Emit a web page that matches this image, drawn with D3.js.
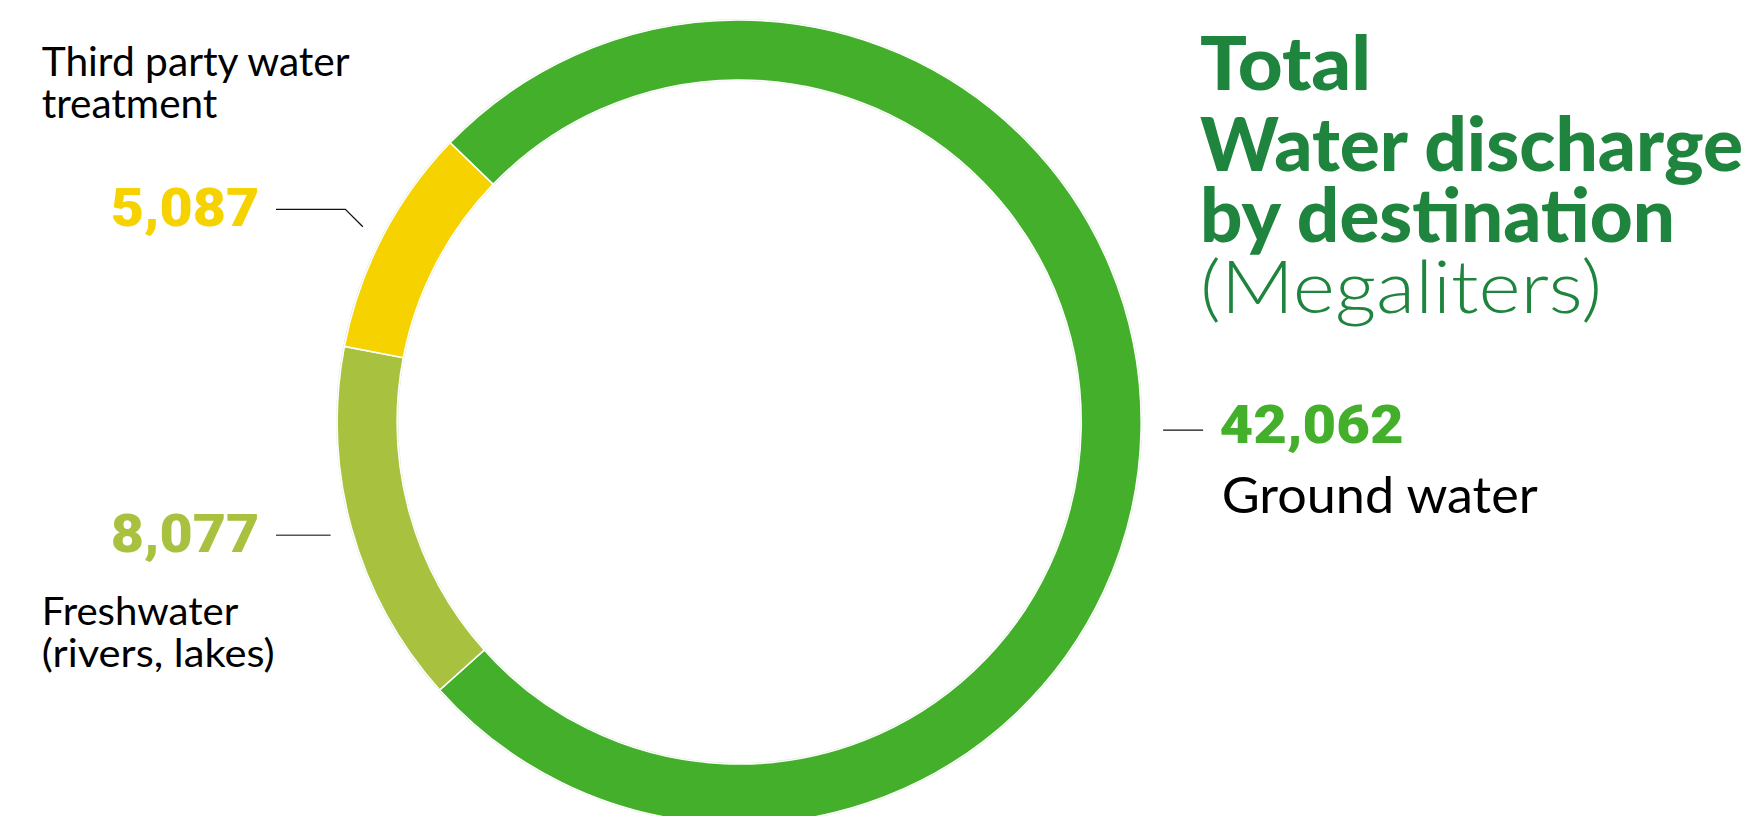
<!DOCTYPE html>
<html>
<head>
<meta charset="utf-8">
<script src="https://cdn.jsdelivr.net/npm/d3@7"></script>
<style>
  html, body { margin: 0; padding: 0; background: #fff; overflow: hidden; }
  svg { display: block; }
</style>
</head>
<body>
<svg id="chart" width="1753" height="816"></svg>
<script>
// ---- data ----
const categories = ["Ground water", "Freshwater (rivers, lakes)", "Third party water treatment"];
const values = [42062, 8077, 5087];
const colors = ["#43AF2B", "#A8C23F", "#F5D200"];
const labelLines = [["Ground water"], ["Freshwater", "(rivers, lakes)"], ["Third party water", "treatment"]];
const titleLines = ["Total", "Water discharge", "by destination"];
const subtitle = "(Megaliters)";

// ---- layout ----
const W = 1753, H = 816;
const cx = 739.2, cy = 422;
const rOuter = 402, rInner = 342;
const startDeg = -46;
const titleColor = "#1E843E";

const svg = d3.select("#chart");

const pie = d3.pie().sort(null).value(d => d)
  .startAngle(startDeg * Math.PI / 180)
  .endAngle(startDeg * Math.PI / 180 + 2 * Math.PI);
const arcs = pie(values);

const arc = d3.arc().innerRadius(rInner).outerRadius(rOuter);
const g = svg.append("g").attr("transform", `translate(${cx},${cy})`);

// faint outline halo
g.append("circle").attr("r", rOuter + 0.5).attr("fill", "none").attr("stroke", "#cfe8c6").attr("stroke-width", 1.2);
g.append("circle").attr("r", rInner - 0.5).attr("fill", "none").attr("stroke", "#cfe8c6").attr("stroke-width", 1.2);

g.selectAll("path.seg").data(arcs).join("path")
  .attr("class", "seg")
  .attr("d", arc)
  .attr("fill", (d, i) => colors[i])
  .attr("stroke", "#ffffff")
  .attr("stroke-width", 1.6)
  .attr("stroke-linejoin", "miter");

// ---- text helpers ----
function addText(parent, str, x, y, opts) {
  const t = parent.append("text")
    .attr("x", x).attr("y", y)
    .attr("font-family", opts.family)
    .attr("font-size", opts.size)
    .attr("font-weight", opts.weight || 400)
    .attr("fill", opts.fill || "#000")
    .attr("text-anchor", opts.anchor || "start")
    .text(str);
  if (opts.width) {
    t.attr("textLength", opts.width).attr("lengthAdjust", "spacingAndGlyphs");
  }
  return t;
}
// multi-line block: one text element, one tspan per line
function addBlock(parent, lines, x, ys, widths, opts) {
  const t = parent.append("text")
    .attr("font-family", opts.family)
    .attr("font-size", opts.size)
    .attr("font-weight", opts.weight || 400)
    .attr("fill", opts.fill || "#000");
  lines.forEach((s, i) => {
    const ts = t.append("tspan").attr("x", x).attr("y", ys[i]).text(s);
    if (widths && widths[i]) ts.attr("textLength", widths[i]).attr("lengthAdjust", "spacingAndGlyphs");
  });
  return t;
}

const fmt = d3.format(",");
const labelFont = "Lato, 'Noto Sans', sans-serif";
const numFont = "Roboto, 'Liberation Sans', sans-serif";

// leader end points at mid-angle, just outside the ring
const leaderR = 424;
function midPoint(d, r) {
  const a = (d.startAngle + d.endAngle) / 2;
  return [cx + r * Math.sin(a), cy - r * Math.cos(a)];
}

// Ground water (index 0) - right side
{
  const p = midPoint(arcs[0], leaderR);
  svg.append("line").attr("x1", p[0]).attr("y1", p[1]).attr("x2", p[0] + 40).attr("y2", p[1])
    .attr("stroke", "#111").attr("stroke-width", 1.3);
  addText(svg, fmt(values[0]), 1219.6, 443.3, {family: numFont, size: 54, weight: 900, fill: colors[0], width: 184});
  addText(svg, labelLines[0][0], 1221.7, 513.3, {family: labelFont, size: 51, weight: 400, fill: "#000", width: 316});
}

// Freshwater (index 1) - left lower
{
  const p = midPoint(arcs[1], leaderR);
  svg.append("line").attr("x1", p[0]).attr("y1", p[1]).attr("x2", 276).attr("y2", p[1])
    .attr("stroke", "#555").attr("stroke-width", 1.5);
  addText(svg, fmt(values[1]), 259.3, 551.7, {family: numFont, size: 54, weight: 900, fill: colors[1], anchor: "end", width: 148.6});
  addBlock(svg, labelLines[1], 41.7, [625, 666.7], [196.6, 233], {family: labelFont, size: 39, weight: 400});
}

// Third party (index 2) - left upper
{
  const p = midPoint(arcs[2], leaderR);
  const elbowY = 209.3;
  const elbowX = p[0] - (p[1] - elbowY);
  svg.append("path")
    .attr("d", `M276,${elbowY} L${elbowX},${elbowY} L${p[0]},${p[1]}`)
    .attr("fill", "none").attr("stroke", "#111").attr("stroke-width", 1.3);
  addText(svg, fmt(values[2]), 259.3, 226, {family: numFont, size: 54, weight: 900, fill: colors[2], anchor: "end", width: 148.6});
  addBlock(svg, labelLines[2], 41.7, [76, 118.3], [308, 175.7], {family: labelFont, size: 40, weight: 400});
}

// ---- title ----
const titleFont = "Lato, 'Noto Sans', sans-serif";
const tBlock = addBlock(svg, titleLines, 1200, [90, 170.5, 242], [171, 543, 475],
  {family: titleFont, size: 74, weight: 900, fill: titleColor});
tBlock.append("tspan").attr("x", 1200).attr("y", 312.7)
  .attr("font-weight", 300).attr("font-size", 73)
  .attr("textLength", 402).attr("lengthAdjust", "spacingAndGlyphs")
  .text(subtitle);
</script>
</body>
</html>
